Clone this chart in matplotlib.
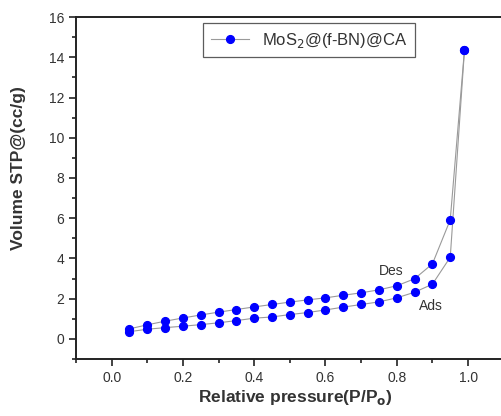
import numpy as np
import matplotlib
matplotlib.use("Agg")
import matplotlib.pyplot as plt

plt.rcParams['font.family'] = ['Liberation Sans', 'DejaVu Sans']

# relative pressure P/Po
p_ads = [0.05, 0.10, 0.15, 0.20, 0.25, 0.30, 0.35, 0.40, 0.45, 0.50,
         0.55, 0.60, 0.65, 0.70, 0.75, 0.80, 0.85, 0.90, 0.95, 0.99]
v_ads = [0.36, 0.48, 0.56, 0.63, 0.71, 0.80, 0.91, 1.03, 1.09, 1.21,
         1.31, 1.44, 1.58, 1.71, 1.84, 2.04, 2.32, 2.72, 4.06, 14.38]
p_des = [0.99, 0.95, 0.90, 0.85, 0.80, 0.75, 0.70, 0.65, 0.60, 0.55,
         0.50, 0.45, 0.40, 0.35, 0.30, 0.25, 0.20, 0.15, 0.10, 0.05]
v_des = [14.38, 5.92, 3.73, 2.99, 2.64, 2.44, 2.29, 2.17, 2.04, 1.94,
         1.83, 1.71, 1.59, 1.46, 1.33, 1.19, 1.04, 0.88, 0.70, 0.50]

txt = '#333333'
fig = plt.figure(figsize=(5.01, 4.16), dpi=100)
ax = fig.add_axes([0.1517, 0.137, 0.8537, 0.822])

kw = dict(color='#9a9a9a', lw=0.8, marker='o', ms=5.6,
          mfc='#0000ff', mec='#0000ff')
ax.plot(p_ads, v_ads, label='MoS$_2$@(f-BN)@CA', **kw)
ax.plot(p_des, v_des, **kw)

ax.text(0.818, 3.05, 'Des', fontsize=10, color=txt, ha='right', va='bottom')
ax.text(0.862, 2.0, 'Ads', fontsize=10, color=txt, ha='left', va='top')

ax.set_xlim(-0.1, 1.1)
ax.set_ylim(-1, 16)
ax.set_xticks(np.arange(0, 1.01, 0.2))
ax.set_xticks(np.arange(-0.1, 1.11, 0.1), minor=True)
ax.set_yticks(np.arange(0, 16.1, 2))
ax.set_yticks(np.arange(-1, 16.1, 1), minor=True)
ax.xaxis.set_major_formatter(plt.FuncFormatter(lambda v, _: f'{v:.1f}'))

for s in ax.spines.values():
    s.set_linewidth(1.4)
    s.set_color('#222222')
ax.tick_params(which='both', direction='out', color='#222222',
               labelsize=10, labelcolor=txt, width=1.2)
ax.tick_params(which='major', length=5)
ax.tick_params(which='minor', length=3)

ax.set_xlabel('Relative pressure(P/P$_\\mathbf{o}$)', fontsize=12.5,
              fontweight='bold', color=txt)
ax.set_ylabel('Volume STP@(cc/g)', fontsize=12.5, fontweight='bold', color=txt)
ax.xaxis.set_label_coords(0.514, -0.085)
ax.yaxis.set_label_coords(-0.118, 0.558)

leg = ax.legend(loc='upper left', bbox_to_anchor=(0.297, 0.982), fontsize=12,
                frameon=True, fancybox=False, edgecolor='#333333',
                handlelength=2.3, borderpad=0.45, borderaxespad=0)
leg.get_frame().set_linewidth(0.9)
for t in leg.get_texts():
    t.set_color(txt)

fig.savefig('out.png', dpi=100)
